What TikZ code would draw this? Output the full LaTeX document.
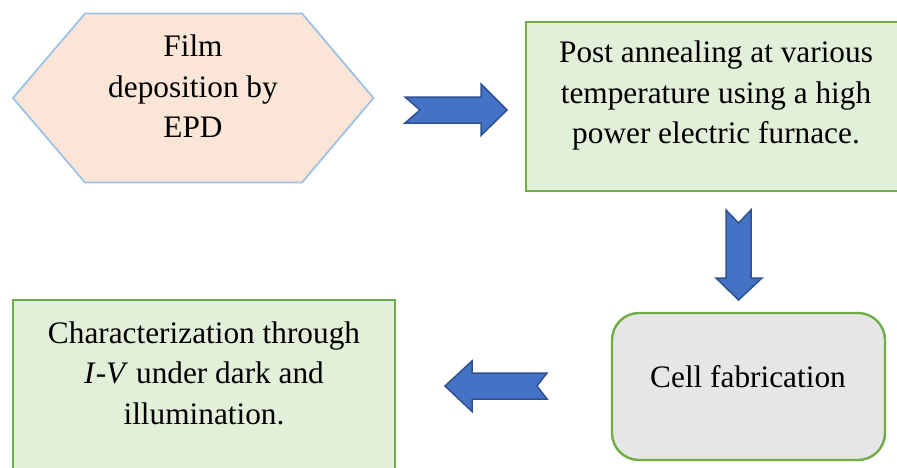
\documentclass[tikz,border=0pt]{standalone}
\usepackage{fontspec}
\setmainfont{Liberation Serif}
\definecolor{hexfill}{HTML}{FBE5D6}
\definecolor{hexline}{HTML}{9DC3E6}
\definecolor{grfill}{HTML}{E2F0D9}
\definecolor{grline}{HTML}{70AD47}
\definecolor{gyfill}{HTML}{E7E6E6}
\definecolor{arfill}{HTML}{4472C4}
\definecolor{arline}{HTML}{2F528F}
\tikzset{
  hexshape/.style={fill=hexfill, draw=hexline, line width=1.8pt, line join=miter},
  greenbox/.style={rectangle, fill=grfill, draw=grline, line width=2.4pt, inner sep=0pt},
  graybox/.style={rectangle, fill=gyfill, draw=grline, line width=2.4pt, rounded corners=27pt, inner sep=0pt},
  blockarrow/.style={fill=arfill, draw=arline, line width=1.5pt, line join=miter},
  txt/.style={inner sep=0pt, align=center, font=\fontsize{31.3}{40.5}\selectfont}
}
\begin{document}
\begin{tikzpicture}[x=1pt,y=-1pt]
\clip (0,0) rectangle (897,467);
\fill[white] (0,0) rectangle (897,467);
% hexagon
\coordinate (film) at (193,98);
\draw[hexshape] (13,98) -- (85,13.5) -- (302,13.5) -- (373.5,98) -- (302,182.5) -- (85,182.5) -- cycle;
\node[txt] (filmtxt) at (193,89) {\strut Film\\deposition by\\EPD\strut};
% post annealing box
\node[greenbox, minimum width=380pt, minimum height=169pt] (post) at (716,106.5) {};
\node[txt] (posttxt) at (716,95) {\strut Post annealing at various\\temperature using a high\\power electric furnace.\strut};
% cell fabrication
\node[graybox, minimum width=273pt, minimum height=147pt] (cell) at (748.5,386.5) {};
\node[txt] (celltxt) at (748,379) {\strut Cell fabrication\strut};
% characterization
\node[greenbox, minimum width=382pt, minimum height=190pt] (char) at (204,395) {};
\node[txt] (chartxt) at (204,375.5) {\strut Characterization through\\\textit{I}-\textit{V} under dark and\\illumination.\strut};
% block arrows
\draw[blockarrow] (405,97) -- (481,97) -- (481,84) -- (507,110) -- (481,135.5) -- (481,123) -- (405,123) -- (420,110) -- cycle;
\draw[blockarrow] (726,210) -- (738.5,223) -- (751,210) -- (751,278) -- (762,278) -- (738.5,300) -- (716,278) -- (726,278) -- cycle;
\draw[blockarrow] (547,373) -- (472,373) -- (472,361) -- (445,386) -- (472,411.5) -- (472,399) -- (547,399) -- (537,386) -- cycle;
\end{tikzpicture}
\end{document}
